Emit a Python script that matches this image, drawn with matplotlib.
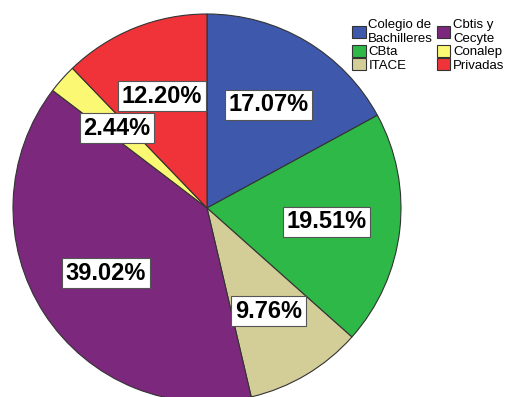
import matplotlib.pyplot as plt

labels = ["Colegio de\nBachilleres", "CBta", "ITACE", "Cbtis y\nCecyte", "Conalep", "Privadas"]
values = [17.07, 19.51, 9.76, 39.02, 2.44, 12.20]
colors = ["#3E58AC", "#2EB848", "#D3CE97", "#7C287D", "#FBF873", "#EF3338"]

W, H = 511, 397
cx, cy, R = 207, 208, 194  # pixel centre / radius of pie

fig = plt.figure(figsize=(W / 100, H / 100), dpi=100)
ax = fig.add_axes([0, 0, 1, 1])

wedges, texts, autotexts = ax.pie(
    values,
    colors=colors,
    startangle=90,
    counterclock=False,
    radius=1.0,
    autopct=lambda p: f"{p:.2f}%",
    pctdistance=0.62,
    wedgeprops=dict(edgecolor="#333333", linewidth=0.8),
    textprops=dict(fontfamily="Liberation Sans", fontweight="bold", fontsize=17, color="black"),
    frame=True,
)
ax.set_xlim(-cx / R, (W - cx) / R)
ax.set_ylim(-(H - cy) / R, cy / R)
ax.set_aspect("auto")
ax.axis("off")

for t in autotexts:
    t.set_bbox(dict(facecolor="white", edgecolor="#555555", linewidth=0.8, pad=2.5))

fig.legend(
    wedges,
    labels,
    ncol=2,
    loc="upper right",
    bbox_to_anchor=(1.005, 0.975),
    frameon=False,
    prop=dict(family="Liberation Sans", size=9.5),
    handlelength=1.0,
    handleheight=1.0,
    handletextpad=0.2,
    columnspacing=0.3,
    labelspacing=0.0,
    borderpad=0.2,
)

fig.savefig("out.png", dpi=100)
